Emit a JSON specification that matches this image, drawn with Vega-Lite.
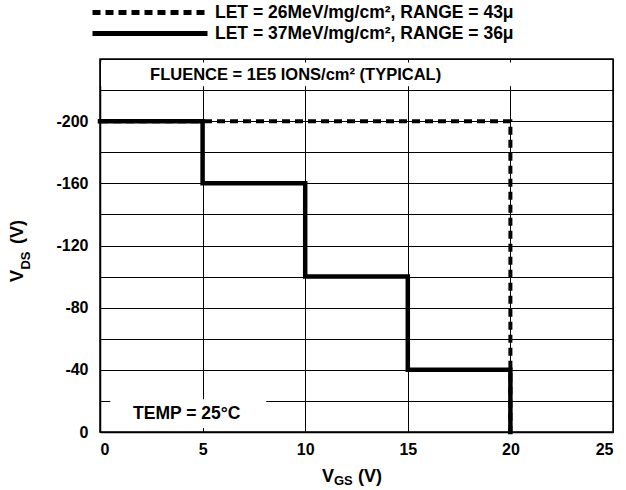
{
  "$schema": "https://vega.github.io/schema/vega-lite/v6.json",
  "width": 513,
  "height": 373,
  "autosize": {"type": "none"},
  "padding": {"left": 100, "top": 59, "right": 13, "bottom": 58},
  "background": "white",
  "config": {
    "font": "Liberation Sans",
    "view": {"stroke": "black", "strokeWidth": 1.5},
    "axis": {
      "grid": true,
      "gridColor": "black",
      "gridWidth": 1,
      "gridOpacity": 1,
      "domainColor": "black",
      "domainWidth": 1.5,
      "ticks": false,
      "labelFont": "Liberation Sans",
      "labelFontSize": 16,
      "labelFontWeight": "bold",
      "labelColor": "black",
      "title": null
    }
  },
  "datasets": {
    "curves": [
      {"series": "LET = 26MeV/mg/cm², RANGE = 43μ", "vgs": 0, "vds": -200, "i": 1},
      {"series": "LET = 26MeV/mg/cm², RANGE = 43μ", "vgs": 20, "vds": -200, "i": 2},
      {"series": "LET = 26MeV/mg/cm², RANGE = 43μ", "vgs": 20, "vds": 0, "i": 3},
      {"series": "LET = 37MeV/mg/cm², RANGE = 36μ", "vgs": 0, "vds": -200, "i": 1},
      {"series": "LET = 37MeV/mg/cm², RANGE = 36μ", "vgs": 5, "vds": -200, "i": 2},
      {"series": "LET = 37MeV/mg/cm², RANGE = 36μ", "vgs": 5, "vds": -160, "i": 3},
      {"series": "LET = 37MeV/mg/cm², RANGE = 36μ", "vgs": 10, "vds": -160, "i": 4},
      {"series": "LET = 37MeV/mg/cm², RANGE = 36μ", "vgs": 10, "vds": -100, "i": 5},
      {"series": "LET = 37MeV/mg/cm², RANGE = 36μ", "vgs": 15, "vds": -100, "i": 6},
      {"series": "LET = 37MeV/mg/cm², RANGE = 36μ", "vgs": 15, "vds": -40, "i": 7},
      {"series": "LET = 37MeV/mg/cm², RANGE = 36μ", "vgs": 20, "vds": -40, "i": 8},
      {"series": "LET = 37MeV/mg/cm², RANGE = 36μ", "vgs": 20, "vds": 0, "i": 9}
    ],
    "one": [{"k": 1}]
  },
  "layer": [
    {
      "data": {"name": "curves"},
      "transform": [{"filter": "indexof(datum.series, '26MeV') >= 0"}],
      "mark": {"type": "line", "color": "black", "strokeWidth": 4, "strokeCap": "butt"},
      "encoding": {
        "x": {"field": "vgs", "type": "quantitative",
              "scale": {"domain": [0, 25], "nice": false, "zero": false},
              "axis": {"values": [0, 5, 10, 15, 20, 25], "labelPadding": 9, "tickCount": 20}},
        "y": {"field": "vds", "type": "quantitative",
              "scale": {"domain": [0, -240], "nice": false, "zero": false},
              "axis": {"values": [0, -20, -40, -60, -80, -100, -120, -140, -160, -180, -200, -220, -240],
                       "tickCount": 30,
                       "labelExpr": "(datum.value % 40 == 0 && datum.value > -240) ? replace(datum.label, '−', '-') : ''",
                       "labelPadding": 12}},
        "order": {"field": "i", "type": "quantitative"},
        "strokeDash": {"field": "series", "type": "nominal",
          "scale": {"domain": ["LET = 26MeV/mg/cm², RANGE = 43μ", "LET = 37MeV/mg/cm², RANGE = 36μ"],
                    "range": [[8, 5], [1, 0]]},
          "legend": {"orient": "none", "legendX": -10, "legendY": -57, "title": null,
                     "symbolType": "stroke", "symbolSize": 13225, "symbolStrokeWidth": 5,
                     "symbolStrokeColor": "black", "clipHeight": 21, "rowPadding": 0,
                     "labelFont": "Liberation Sans", "labelFontSize": 17.5, "labelFontWeight": "bold",
                     "labelColor": "black", "labelOffset": 5, "labelLimit": 400}}
      }
    },
    {
      "data": {"name": "curves"},
      "transform": [{"filter": "indexof(datum.series, '37MeV') >= 0"}],
      "mark": {"type": "line", "color": "black", "strokeWidth": 4.5, "strokeCap": "square"},
      "encoding": {
        "x": {"field": "vgs", "type": "quantitative"},
        "y": {"field": "vds", "type": "quantitative"},
        "order": {"field": "i", "type": "quantitative"},
        "strokeDash": {"field": "series", "type": "nominal"}
      }
    },
    {
      "data": {"name": "one"},
      "mark": {"type": "rect", "fill": "white"},
      "encoding": {
        "x": {"datum": 0.05, "type": "quantitative"},
        "x2": {"datum": 24.95},
        "y": {"datum": -222.5, "type": "quantitative"},
        "y2": {"datum": -237.8}
      }
    },
    {
      "data": {"name": "one"},
      "mark": {"type": "rect", "fill": "white"},
      "encoding": {
        "x": {"datum": 0.5, "type": "quantitative"},
        "x2": {"datum": 8.1},
        "y": {"datum": -2.6, "type": "quantitative"},
        "y2": {"datum": -21}
      }
    },
    {
      "data": {"name": "one"},
      "mark": {"type": "text", "text": "FLUENCE = 1E5 IONS/cm² (TYPICAL)", "align": "left", "baseline": "middle",
               "font": "Liberation Sans", "fontSize": 16.5, "fontWeight": "bold", "color": "black"},
      "encoding": {"x": {"datum": 2.44, "type": "quantitative"}, "y": {"datum": -230, "type": "quantitative"}}
    },
    {
      "data": {"name": "one"},
      "mark": {"type": "text", "text": "TEMP = 25°C", "align": "left", "baseline": "middle",
               "font": "Liberation Sans", "fontSize": 17.5, "fontWeight": "bold", "color": "black"},
      "encoding": {"x": {"datum": 1.61, "type": "quantitative"}, "y": {"datum": -11.6, "type": "quantitative"}}
    },
    {
      "data": {"name": "one"},
      "mark": {"type": "text", "text": "V", "align": "left", "baseline": "middle",
               "font": "Liberation Sans", "fontSize": 18, "fontWeight": "bold", "color": "black"},
      "encoding": {"x": {"datum": 10.82, "type": "quantitative"}, "y": {"datum": 28.9, "type": "quantitative"}}
    },
    {
      "data": {"name": "one"},
      "mark": {"type": "text", "text": "GS", "align": "left", "baseline": "middle", "dy": 4,
               "font": "Liberation Sans", "fontSize": 13, "fontWeight": "bold", "color": "black"},
      "encoding": {"x": {"datum": 11.4, "type": "quantitative"}, "y": {"datum": 28.9, "type": "quantitative"}}
    },
    {
      "data": {"name": "one"},
      "mark": {"type": "text", "text": "(V)", "align": "left", "baseline": "middle",
               "font": "Liberation Sans", "fontSize": 18, "fontWeight": "bold", "color": "black"},
      "encoding": {"x": {"datum": 12.57, "type": "quantitative"}, "y": {"datum": 28.9, "type": "quantitative"}}
    },
    {
      "data": {"name": "one"},
      "mark": {"type": "text", "text": "V", "align": "left", "baseline": "middle", "angle": 270,
               "font": "Liberation Sans", "fontSize": 18, "fontWeight": "bold", "color": "black"},
      "encoding": {"x": {"datum": -4.02, "type": "quantitative"}, "y": {"datum": -96.5, "type": "quantitative"}}
    },
    {
      "data": {"name": "one"},
      "mark": {"type": "text", "text": "DS", "align": "left", "baseline": "middle", "angle": 270,
               "font": "Liberation Sans", "fontSize": 13, "fontWeight": "bold", "color": "black"},
      "encoding": {"x": {"datum": -3.6, "type": "quantitative"}, "y": {"datum": -104.5, "type": "quantitative"}}
    },
    {
      "data": {"name": "one"},
      "mark": {"type": "text", "text": "(V)", "align": "left", "baseline": "middle", "angle": 270,
               "font": "Liberation Sans", "fontSize": 18, "fontWeight": "bold", "color": "black"},
      "encoding": {"x": {"datum": -4.02, "type": "quantitative"}, "y": {"datum": -120.9, "type": "quantitative"}}
    }
  ]
}
